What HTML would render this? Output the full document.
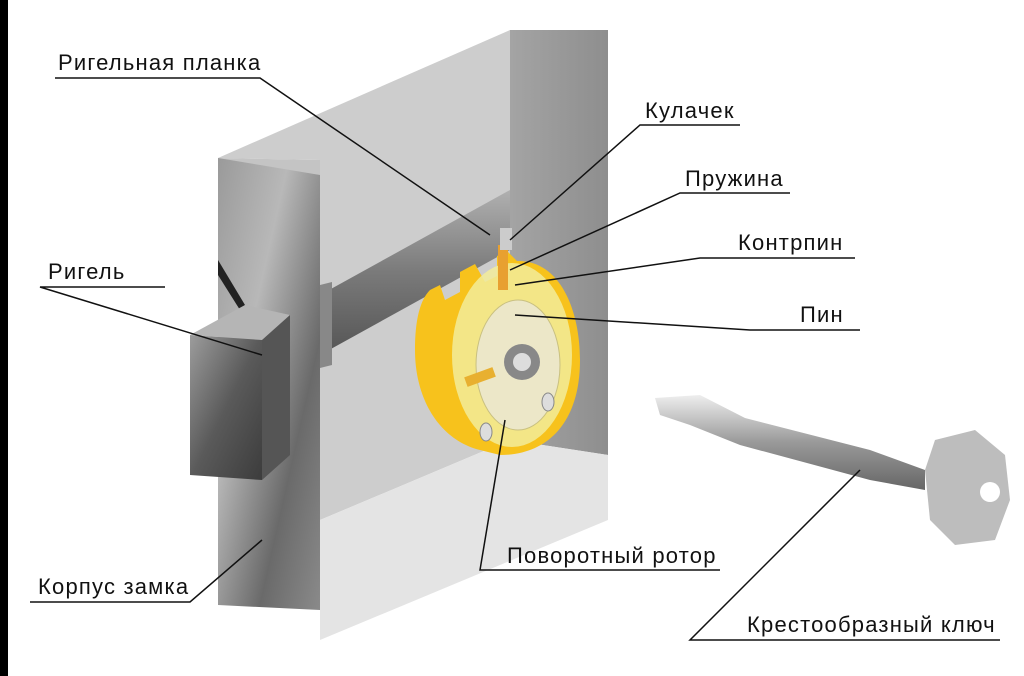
<!DOCTYPE html>
<html><head><meta charset="utf-8"><style>
html,body{margin:0;padding:0;background:#fff}
svg{display:block}
text{font-family:"Liberation Sans","DejaVu Sans",sans-serif;font-size:22px;letter-spacing:1.2px;fill:#111}
</style></head><body>
<svg width="1024" height="676" viewBox="0 0 1024 676" xmlns="http://www.w3.org/2000/svg">
<defs>
<linearGradient id="plate" x1="0" y1="0" x2="1" y2="1">
<stop offset="0" stop-color="#9a9a9a"/><stop offset="0.35" stop-color="#b8b8b8"/><stop offset="0.7" stop-color="#6a6a6a"/><stop offset="1" stop-color="#8a8a8a"/></linearGradient>
<linearGradient id="bolt" x1="0" y1="0" x2="1" y2="1">
<stop offset="0" stop-color="#9c9c9c"/><stop offset="0.5" stop-color="#5a5a5a"/><stop offset="1" stop-color="#3c3c3c"/></linearGradient>
<linearGradient id="rside" x1="0" y1="0" x2="1" y2="0">
<stop offset="0" stop-color="#a4a4a4"/><stop offset="1" stop-color="#8e8e8e"/></linearGradient>
<linearGradient id="bar" x1="0" y1="0" x2="0" y2="1">
<stop offset="0" stop-color="#b0b0b0"/><stop offset="0.5" stop-color="#7a7a7a"/><stop offset="1" stop-color="#555"/></linearGradient>
<linearGradient id="key" x1="0" y1="0" x2="0" y2="1">
<stop offset="0" stop-color="#eee"/><stop offset="0.5" stop-color="#999"/><stop offset="1" stop-color="#666"/></linearGradient>
</defs>
<rect width="1024" height="676" fill="#fff"/>
<rect x="0" y="0" width="8" height="676" fill="#000"/>
<polygon points="218,158 510,30 510,440 320,520 320,160" fill="#cdcdcd"/>
<polygon points="510,30 608,30 608,455 510,440" fill="url(#rside)"/>
<polygon points="320,520 510,440 608,455 608,520 320,640" fill="#e4e4e4"/>
<polygon points="218,158 320,160 320,520 218,520" fill="#c4c4c4"/>
<polygon points="320,295 510,190 510,250 320,355" fill="url(#bar)"/>
<polygon points="320,285 332,282 332,365 320,368" fill="#888"/>
<polygon points="218,158 320,175 320,610 218,605" fill="url(#plate)"/>
<polygon points="218,260 245,305 240,310 218,275" fill="#222"/>
<polygon points="190,335 245,305 290,315 262,340" fill="#b5b5b5"/>
<polygon points="262,340 290,315 290,455 262,480" fill="#555"/>
<polygon points="190,335 262,340 262,480 190,475" fill="url(#bolt)"/>
<path d="M430,290 l10,-5 l5,15 l15,-8 l0,-20 l15,-8 l10,18 l12,-6 l0,-20 l10,-5 l10,10 C560,260 580,310 580,360 C580,420 550,455 500,455 L480,450 C440,440 415,400 415,350 C415,320 420,300 430,290Z" fill="#f7c21c"/>
<ellipse cx="512" cy="355" rx="60" ry="92" fill="#f2ec9a" opacity="0.85"/>
<ellipse cx="518" cy="365" rx="42" ry="65" fill="#ece7c8" stroke="#c9c080"/>
<circle cx="522" cy="362" r="18" fill="#888"/>
<circle cx="522" cy="362" r="9" fill="#ddd"/>
<rect x="498" y="245" width="10" height="45" fill="#e8a030"/>
<rect x="465" y="372" width="30" height="10" fill="#e8b030" transform="rotate(-20 480 377)"/>
<ellipse cx="548" cy="402" rx="6" ry="9" fill="#ddd" stroke="#888"/>
<ellipse cx="486" cy="432" rx="6" ry="9" fill="#ddd" stroke="#888"/>
<rect x="500" y="228" width="12" height="22" fill="#ccc"/>
<polygon points="655,398 700,395 745,418 870,450 925,470 925,490 870,480 740,445 690,425 660,415" fill="url(#key)"/>
<polygon points="935,440 975,430 1005,455 1010,500 995,540 955,545 930,520 925,470" fill="#bdbdbd"/>
<circle cx="990" cy="492" r="10" fill="#fff"/>
<g stroke="#111" stroke-width="1.5" fill="none">
<polyline points="55,78 260,78 490,235"/>
<polyline points="740,125 640,125 510,240"/>
<polyline points="790,193 680,193 510,270"/>
<polyline points="855,258 700,258 515,285"/>
<polyline points="860,330 750,330 515,315"/>
<polyline points="165,287 40,287 262,355"/>
<polyline points="30,602 190,602 262,540"/>
<polyline points="720,570 480,570 505,420"/>
<polyline points="1000,640 690,640 860,470"/>
</g>
<text x="58" y="70">Ригельная планка</text>
<text x="645" y="118">Кулачек</text>
<text x="685" y="186">Пружина</text>
<text x="738" y="250">Контрпин</text>
<text x="800" y="322">Пин</text>
<text x="48" y="279">Ригель</text>
<text x="38" y="594">Корпус замка</text>
<text x="507" y="563">Поворотный ротор</text>
<text x="747" y="632">Крестообразный ключ</text>
</svg>
</body></html>
